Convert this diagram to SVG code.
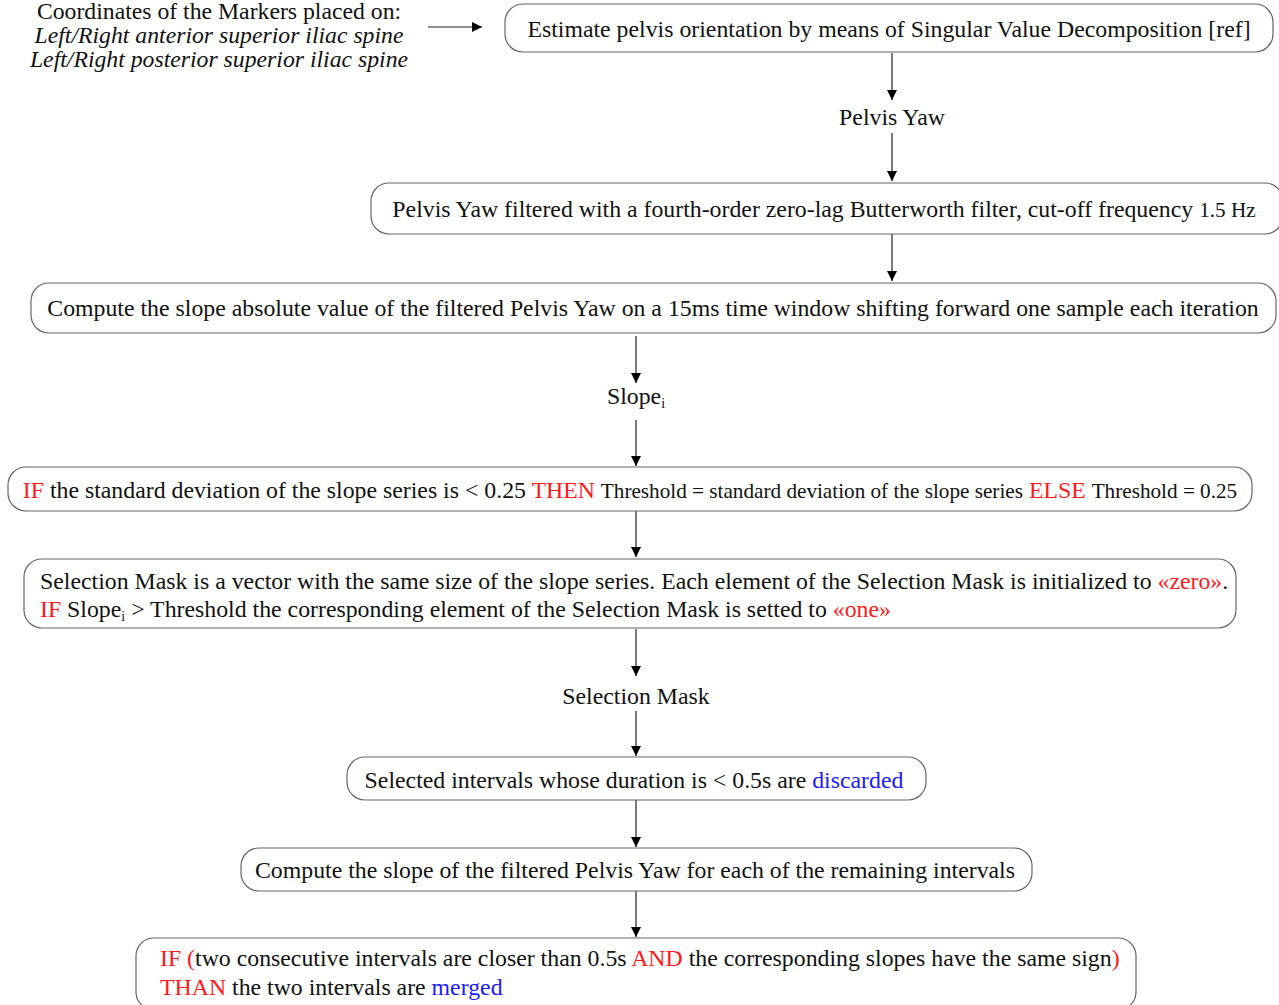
<svg xmlns="http://www.w3.org/2000/svg" width="1279" height="1005" viewBox="0 0 1279 1005">
  <defs>
    <marker id="arrow" viewBox="0 0 10 10" refX="10" refY="5" markerWidth="10" markerHeight="10" markerUnits="userSpaceOnUse" orient="auto">
      <path d="M0,0 L10,5 L0,10 Z" fill="#000"/>
    </marker>
    <style>
      text { font-family: "Liberation Serif", "Times New Roman", serif; font-size: 23.8px; fill: #111; }
      .box { fill: #fff; stroke: #666; stroke-width: 1.2; }
      .edge { stroke: #222; stroke-width: 1.2; fill: none; marker-end: url(#arrow); }
      .red { fill: #ff1a1a; }
      .blue { fill: #1a1aff; }
      .small { font-size: 21.2px; }
      .sub { font-size: 14px; }
      .it { font-style: italic; }
      .note { font-size: 22.6px; }
    </style>
  </defs>
  <rect width="1279" height="1005" fill="#fff"/>

  <!-- connectors -->
  <g id="connectors">
    <line class="edge" x1="428" y1="27" x2="482" y2="27"/>
    <line class="edge" x1="892" y1="53" x2="892" y2="100"/>
    <line class="edge" x1="892" y1="133" x2="892" y2="181"/>
    <line class="edge" x1="892" y1="234" x2="892" y2="281"/>
    <line class="edge" x1="636" y1="336" x2="636" y2="383"/>
    <line class="edge" x1="636" y1="420" x2="636" y2="466"/>
    <line class="edge" x1="636" y1="511" x2="636" y2="557"/>
    <line class="edge" x1="636" y1="629" x2="636" y2="676"/>
    <line class="edge" x1="636" y1="711" x2="636" y2="756"/>
    <line class="edge" x1="636" y1="800" x2="636" y2="847"/>
    <line class="edge" x1="636" y1="891" x2="636" y2="937"/>
  </g>

  <!-- input markers -->
  <g id="markers-input">
    <text x="219" y="19" text-anchor="middle" class="note" transform="translate(219 0) scale(1.05 1) translate(-219 0)">Coordinates of the Markers placed on:</text>
    <text x="219" y="43" text-anchor="middle" class="note it" transform="translate(219 0) scale(1.05 1) translate(-219 0)">Left/Right anterior superior iliac spine</text>
    <text x="219" y="67" text-anchor="middle" class="note it" transform="translate(219 0) scale(1.05 1) translate(-219 0)">Left/Right posterior superior iliac spine</text>
  </g>

  <g id="svd">
    <rect class="box" x="505" y="4" width="768" height="48" rx="18"/>
    <text x="889" y="37" text-anchor="middle">Estimate pelvis orientation by means of Singular Value Decomposition [ref]</text>
  </g>

  <g id="pelvis-yaw">
    <text x="892" y="125" text-anchor="middle">Pelvis Yaw</text>
  </g>

  <g id="filter">
    <rect class="box" x="371" y="183" width="912" height="51" rx="18"/>
    <text x="824" y="217" text-anchor="middle">Pelvis Yaw filtered with a fourth-order zero-lag Butterworth filter, cut-off frequency <tspan class="small">1.5 Hz</tspan></text>
  </g>

  <g id="slope-compute">
    <rect class="box" x="31" y="283" width="1245" height="50" rx="18"/>
    <text x="653" y="316" text-anchor="middle">Compute the slope absolute value of the filtered Pelvis Yaw on a 15ms time window shifting forward one sample each iteration</text>
  </g>

  <g id="slope-i">
    <text x="636" y="404" text-anchor="middle">Slope<tspan class="sub" dy="4">i</tspan></text>
  </g>

  <g id="threshold">
    <rect class="box" x="8" y="467" width="1244" height="44" rx="18"/>
    <text x="630" y="498" text-anchor="middle"><tspan class="red">IF</tspan> the standard deviation of the slope series is &lt; 0.25 <tspan class="red">THEN</tspan> <tspan class="small">Threshold = standard deviation of the slope series</tspan> <tspan class="red">ELSE</tspan> <tspan class="small">Threshold = 0.25</tspan></text>
  </g>

  <g id="selection-mask-init">
    <rect class="box" x="24" y="559" width="1212" height="69" rx="18"/>
    <text x="40" y="589">Selection Mask is a vector with the same size of the slope series. Each element of the Selection Mask is initialized to <tspan class="red">«zero»</tspan>.</text>
    <text x="40" y="617"><tspan class="red">IF</tspan> Slope<tspan class="sub" dy="4">i</tspan><tspan dy="-4"> &gt; Threshold the corresponding element of the Selection Mask is setted to </tspan><tspan class="red">«one»</tspan></text>
  </g>

  <g id="selection-mask">
    <text x="636" y="704" text-anchor="middle">Selection Mask</text>
  </g>

  <g id="discard">
    <rect class="box" x="347" y="757" width="579" height="43" rx="18"/>
    <text x="634" y="788" text-anchor="middle">Selected intervals whose duration is &lt; 0.5s are <tspan class="blue">discarded</tspan></text>
  </g>

  <g id="interval-slope">
    <rect class="box" x="241" y="848" width="791" height="43" rx="18"/>
    <text x="635" y="878" text-anchor="middle">Compute the slope of the filtered Pelvis Yaw for each of the remaining intervals</text>
  </g>

  <g id="merge">
    <rect class="box" x="136" y="938" width="1000" height="72" rx="18"/>
    <text x="160" y="966"><tspan class="red">IF (</tspan>two consecutive intervals are closer than 0.5s <tspan class="red">AND</tspan> the corresponding slopes have the same sign<tspan class="red">)</tspan></text>
    <text x="160" y="995"><tspan class="red">THAN</tspan> the two intervals are <tspan class="blue">merged</tspan></text>
  </g>
</svg>
